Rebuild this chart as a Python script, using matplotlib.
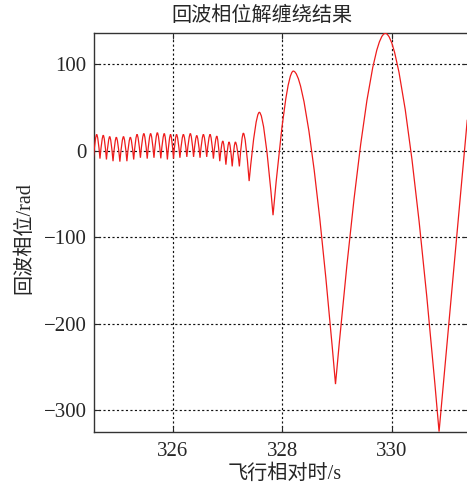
import matplotlib
matplotlib.use('Agg')
import matplotlib.pyplot as plt
from matplotlib.path import Path
from matplotlib.patches import PathPatch

# ---- data (cusps = sharp minima, peaks = smooth maxima) ----
cusp_t = [324.552, 324.672, 324.790, 324.910, 325.035, 325.163, 325.287, 325.410,
          325.534, 325.657, 325.782, 325.902, 326.014, 326.131, 326.257, 326.380,
          326.498, 326.620, 326.742, 326.858, 326.970, 327.085, 327.216, 327.394,
          327.83, 328.97, 330.86]
cusp_v = [-8, -9, -10, -12, -12.5, -12, -10, -8, -9, -8, -8.7, -10, -9, -8, -7, -7,
          -8, -7, -9, -12, -16, -18, -18, -35, -74.5, -270, -325]
peak_t = [324.612, 324.732, 324.849, 324.970, 325.101, 325.226, 325.348, 325.472,
          325.596, 325.719, 325.845, 325.960, 326.069, 326.194, 326.321, 326.438,
          326.559, 326.681, 326.804, 326.913, 327.028, 327.143, 327.289, 327.58,
          328.20, 329.88]
peak_v = [18.9, 18, 16.5, 15.7, 16.5, 15.7, 19, 20, 20, 21, 20, 19, 19, 19, 20, 17.7,
          19, 19, 17, 11.3, 10.2, 10.2, 20.5, 44.6, 92.3, 136]
end_t = 331.375
end_v = 36

xticks = [326, 328, 330]
yticks = [-300, -200, -100, 0, 100]

title = '回波相位解缠绕结果'
xlabel = '飞行相对时/s'
ylabel = '回波相位/rad'

FAM = ['Liberation Serif', 'Noto Sans CJK SC', 'DejaVu Sans']
plt.rcParams['font.family'] = FAM
plt.rcParams['axes.unicode_minus'] = True

fig = plt.figure(figsize=(4.67, 4.88), dpi=100)
ax = fig.add_axes([0.2006, 0.1148, 0.8006, 0.8176])

# build curve: sine-like arcs (smooth peaks, sharp cusps) using quadratic Bezier segments
k = 0.637
verts = [(cusp_t[0], cusp_v[0])]
codes = [Path.MOVETO]
for i in range(len(peak_t)):
    tc, yc = cusp_t[i], cusp_v[i]
    tp, yp = peak_t[i], peak_v[i]
    tn, yn = cusp_t[i + 1], cusp_v[i + 1]
    verts += [(tc + k * (tp - tc), yp), (tp, yp)]
    codes += [Path.CURVE3, Path.CURVE3]
    verts += [(tn - k * (tn - tp), yp), (tn, yn)]
    codes += [Path.CURVE3, Path.CURVE3]
verts.append((end_t, end_v))
codes.append(Path.LINETO)

patch = PathPatch(Path(verts, codes), fill=False, edgecolor='#ee1c1c', lw=0.9,
                  zorder=3, capstyle='butt', joinstyle='miter')
ax.add_patch(patch)

ax.set_xlim(324.557, 331.38)
ax.set_ylim(-325.4, 136.4)
ax.set_xticks(xticks)
ax.set_yticks(yticks)

ax.grid(True, color='#111111', lw=0.85, linestyle=(0, (1.8, 2.0)))
ax.tick_params(direction='in', length=4, width=0.8, labelsize=15,
               top=True, right=True, colors='#262626', labelcolor='#262626')
ax.tick_params(axis='x', pad=7)
ax.tick_params(axis='y', pad=5)
for lab in ax.get_xticklabels() + ax.get_yticklabels():
    lab.set_family(FAM)
for s in ax.spines.values():
    s.set_color('#333333')
    s.set_linewidth(1.0)

fig.text(262 / 467, 1 - 16 / 488, title, ha='center', va='center', fontsize=14.5,
         color='#262626', family=FAM)
fig.text(284.5 / 467, 1 - 474 / 488, xlabel, ha='center', va='center', fontsize=14.5,
         color='#262626', family=FAM)
fig.text(25 / 467, 1 - 238.5 / 488, ylabel, ha='center', va='center', fontsize=14.5,
         rotation=90, color='#262626', family=FAM)

fig.savefig('out.png', dpi=100)
